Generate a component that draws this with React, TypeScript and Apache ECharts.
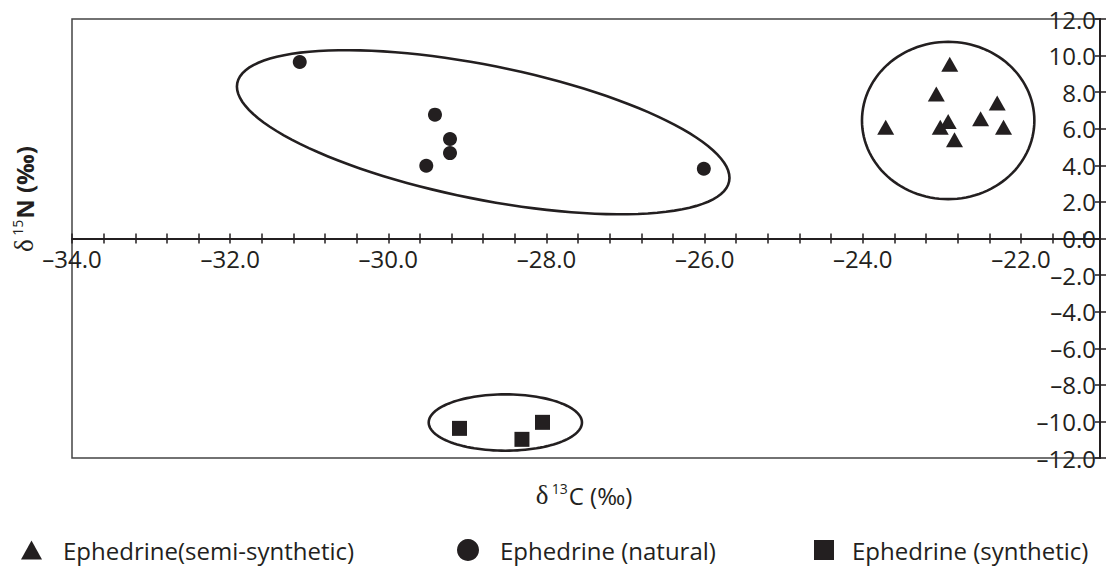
import React, { useEffect, useRef } from "react";
import * as echarts from "echarts";

// δ13C (x) and δ15N (y) readings, ‰
const semiSynthetic: number[][] = [
  [-22.9, 9.53], [-23.07, 7.9], [-22.3, 7.41], [-22.92, 6.4], [-22.51, 6.55],
  [-23.71, 6.08], [-23.02, 6.08], [-22.22, 6.08], [-22.84, 5.4],
];
const natural: number[][] = [
  [-31.12, 9.65], [-29.41, 6.77], [-29.22, 5.44], [-29.22, 4.67], [-29.52, 3.98], [-26.01, 3.81],
];
const synthetic: number[][] = [
  [-29.1, -10.38], [-28.31, -10.98], [-28.05, -10.05],
];
// cluster outlines: centre x, centre y, semi-axis A (dx, dy), semi-axis B (dx, dy) in data units
const clusterEllipses: number[][] = [
  [-28.8, 5.81, 3.11, -2.69, -0.166, -3.59],
  [-22.92, 6.45, 1.09, 0, 0, 4.3],
  [-28.52, -10.06, 0.969, 0, 0, 1.54],
];
const seriesNames = ["Ephedrine(semi-synthetic)", "Ephedrine (natural)", "Ephedrine (synthetic)"];
const xRange = [-34, -21];
const yRange = [-12, 12];

const INK = "#231f20";
const SANS = "'Open Sans', 'Noto Sans', sans-serif";
const SERIF = "'Liberation Serif', 'DejaVu Serif', serif";

const GRID_TOP = 19;
const GRID_BOTTOM = 109;
const H = 567;

const fmt = (v: number) => v.toFixed(1).replace("-", "\u2013");

export default function App() {
  const ref = useRef<HTMLDivElement>(null);
  useEffect(() => {
    const chart = echarts.init(ref.current!, null, { renderer: "svg" });
    const xLabel = (v: number) => (Math.abs(v / 2 - Math.round(v / 2)) < 1e-6 ? fmt(v) : "");
    // shift the x axis from the grid bottom up to the y = 0 line
    const gridH = H - GRID_TOP - GRID_BOTTOM;
    const zeroOffset = -gridH * (0 - yRange[0]) / (yRange[1] - yRange[0]);
    const baseX = {
      type: "value",
      min: xRange[0],
      max: xRange[1],
      interval: 0.4,
      position: "bottom",
      offset: zeroOffset,
      splitLine: { show: false },
    };
    const baseY = {
      type: "value",
      min: yRange[0],
      max: yRange[1],
      interval: 2,
      position: "right",
      splitLine: { show: false },
    };
    const legendCommon = {
      top: 538,
      padding: 0,
      itemGap: 0,
      textStyle: { fontSize: 24, color: INK, fontFamily: SANS, padding: [0, 0, 0, 16] },
      selectedMode: false,
    };
    chart.setOption({
      animation: false,
      backgroundColor: "#ffffff",
      grid: {
        left: 72,
        right: 13,
        top: GRID_TOP,
        bottom: GRID_BOTTOM,
        show: true,
        borderColor: "#444",
        borderWidth: 1.5,
      },
      xAxis: [
        {
          ...baseX,
          axisLine: { onZero: false, lineStyle: { color: INK, width: 2 } },
          axisTick: { show: true, length: 5, lineStyle: { color: INK, width: 1.5 } },
          axisLabel: {
            formatter: xLabel,
            fontSize: 24,
            color: INK,
            fontFamily: SANS,
            margin: 8,
            showMaxLabel: false,
          },
        },
        {
          ...baseX,
          axisLine: { show: false, onZero: false },
          axisTick: { show: true, inside: true, length: 5, lineStyle: { color: INK, width: 1.5 } },
          axisLabel: { show: false },
        },
      ],
      yAxis: [
        {
          ...baseY,
          axisLine: { show: true, onZero: false, lineStyle: { color: INK, width: 2 } },
          axisTick: { show: true, length: 6, lineStyle: { color: INK, width: 1.5 } },
          axisLabel: {
            inside: true,
            margin: 4,
            formatter: fmt,
            fontSize: 24,
            color: INK,
            fontFamily: SANS,
          },
        },
        {
          ...baseY,
          axisLine: { show: false, onZero: false },
          axisTick: { show: true, inside: true, length: 5, lineStyle: { color: INK, width: 1.5 } },
          axisLabel: { show: false },
        },
      ],
      legend: [
        {
          ...legendCommon,
          left: 21,
          data: [{ name: seriesNames[0], icon: "triangle" }],
          itemWidth: 21,
          itemHeight: 19,
        },
        {
          ...legendCommon,
          left: 457,
          data: [{ name: seriesNames[1], icon: "circle" }],
          itemWidth: 22,
          itemHeight: 22,
        },
        {
          ...legendCommon,
          left: 814,
          data: [{ name: seriesNames[2], icon: "rect" }],
          itemWidth: 20,
          itemHeight: 20,
          textStyle: { ...legendCommon.textStyle, padding: [0, 0, 0, 13] },
        },
      ],
      graphic: [
        {
          type: "text",
          x: 24,
          y: 199,
          rotation: Math.PI / 2,
          style: {
            text: "{d|δ} {s|15}{n|N (‰)}",
            align: "center",
            verticalAlign: "middle",
            rich: {
              d: { fontSize: 27, fontFamily: SERIF, fill: INK },
              s: { fontSize: 14, fontFamily: SANS, fill: INK, verticalAlign: "top", padding: [0, 1, 0, 0] },
              n: { fontSize: 24, fontFamily: SANS, fontWeight: "bold", fill: INK },
            },
          },
        },
        {
          type: "text",
          x: 584,
          y: 495,
          style: {
            text: "{d|δ} {s|13}{n|C (‰)}",
            align: "center",
            verticalAlign: "middle",
            rich: {
              d: { fontSize: 27, fontFamily: SERIF, fill: INK },
              s: { fontSize: 14, fontFamily: SANS, fill: INK, verticalAlign: "top", padding: [0, 1, 0, 0] },
              n: { fontSize: 24, fontFamily: SANS, fill: INK },
            },
          },
        },
      ],
      series: [
        {
          type: "custom",
          name: "outlines",
          silent: true,
          clip: false,
          encode: { x: 0, y: 1 },
          data: clusterEllipses,
          z: 1,
          renderItem: (params: any, api: any) => {
            const cx = api.value(0), cy = api.value(1);
            const ax = api.value(2), ay = api.value(3);
            const bx = api.value(4), by = api.value(5);
            const pts: number[][] = [];
            const n = 120;
            for (let i = 0; i < n; i++) {
              const t = (i / n) * Math.PI * 2;
              pts.push(api.coord([cx + ax * Math.cos(t) + bx * Math.sin(t), cy + ay * Math.cos(t) + by * Math.sin(t)]));
            }
            return {
              type: "polygon",
              shape: { points: pts },
              style: { fill: "none", stroke: INK, lineWidth: 2.6 },
            };
          },
        },
        {
          type: "scatter",
          name: seriesNames[0],
          data: semiSynthetic,
          symbol: "triangle",
          symbolSize: [17, 15],
          itemStyle: { color: INK, opacity: 1 },
          z: 3,
        },
        {
          type: "scatter",
          name: seriesNames[1],
          data: natural,
          symbol: "circle",
          symbolSize: 14,
          itemStyle: { color: INK, opacity: 1 },
          z: 3,
        },
        {
          type: "scatter",
          name: seriesNames[2],
          data: synthetic,
          symbol: "rect",
          symbolSize: 15,
          itemStyle: { color: INK, opacity: 1 },
          z: 3,
        },
      ],
    });
    return () => chart.dispose();
  }, []);
  return (
    <div
      ref={ref}
      style={{ position: "fixed", left: 0, top: 0, width: 1113, height: 567, background: "#fff" }}
    />
  );
}
